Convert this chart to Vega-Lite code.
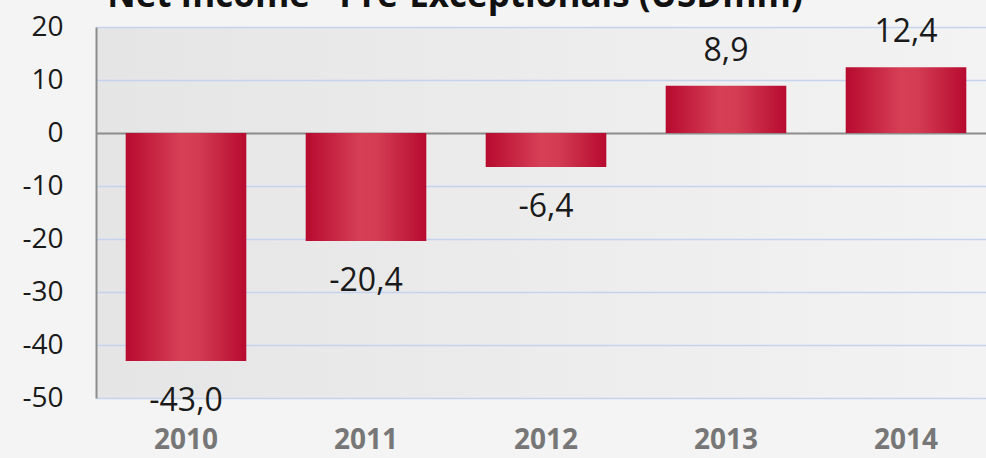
{
  "$schema": "https://vega.github.io/schema/vega-lite/v6.json",
  "width": 900,
  "height": 371,
  "autosize": {"type": "none"},
  "padding": {"left": 96, "top": 27, "right": 0, "bottom": 60},
  "background": "#f4f4f4",
  "title": {
    "text": "Net Income - Pre-Exceptionals (USDmm)",
    "font": "Open Sans",
    "fontSize": 35,
    "fontWeight": "bold",
    "color": "#111111",
    "anchor": "middle",
    "frame": "group",
    "baseline": "alphabetic",
    "offset": 0,
    "dx": -91,
    "dy": 29
  },
  "config": {
    "locale": {"number": {"decimal": ",", "thousands": ".", "grouping": [3], "currency": ["", ""], "minus": "-"}},
    "view": {
      "stroke": null,
      "fill": {"gradient": "linear", "x1": 0, "x2": 1, "y1": 0, "y2": 0, "stops": [{"offset": 0, "color": "#e5e5e5"}, {"offset": 1, "color": "#f3f3f3"}]}
    }
  },
  "data": {
    "values": [
      {"year": "2010", "v": -43.0},
      {"year": "2011", "v": -20.4},
      {"year": "2012", "v": -6.4},
      {"year": "2013", "v": 8.9},
      {"year": "2014", "v": 12.4}
    ]
  },
  "encoding": {
    "x": {
      "field": "year",
      "type": "nominal",
      "scale": {"paddingInner": 0.33, "paddingOuter": 0.165},
      "axis": {
        "title": null,
        "labelAngle": 0,
        "domain": false,
        "ticks": false,
        "labelFont": "Open Sans",
        "labelFontSize": 28,
        "labelFontWeight": "bold",
        "labelColor": "#777777",
        "labelPadding": 28,
        "labelBaseline": "top"
      }
    },
    "y": {
      "field": "v",
      "type": "quantitative",
      "scale": {"domain": [-50, 20], "nice": false},
      "axis": {
        "title": null,
        "values": [-50, -40, -30, -20, -10, 0, 10, 20],
        "format": "d",
        "domain": true,
        "domainColor": "#8c8c8c",
        "domainWidth": 2,
        "ticks": false,
        "labelPadding": 33,
        "labelFont": "Open Sans",
        "labelFontSize": 28,
        "labelColor": "#1a1a1a",
        "grid": true,
        "gridColor": {"condition": {"test": "datum.value === 0", "value": "#8c8c8c"}, "value": "#c5d3ec"},
        "gridWidth": {"condition": {"test": "datum.value === 0", "value": 2}, "value": 1.5},
        "gridOpacity": 1
      }
    }
  },
  "layer": [
    {
      "mark": {
        "type": "bar",
        "color": {"gradient": "linear", "x1": 0, "x2": 1, "y1": 0, "y2": 0, "stops": [
          {"offset": 0, "color": "#b70a2f"},
          {"offset": 0.45, "color": "#d63f56"},
          {"offset": 0.6, "color": "#d33c53"},
          {"offset": 1, "color": "#b70a2f"}
        ]}
      }
    },
    {
      "transform": [{"filter": "datum.v < 0"}],
      "mark": {"type": "text", "font": "Open Sans", "fontSize": 32, "color": "#1a1a1a", "baseline": "middle", "dy": 40},
      "encoding": {"text": {"field": "v", "type": "quantitative", "format": ".1f"}}
    },
    {
      "transform": [{"filter": "datum.v >= 0"}],
      "mark": {"type": "text", "font": "Open Sans", "fontSize": 32, "color": "#1a1a1a", "baseline": "middle", "dy": -35},
      "encoding": {"text": {"field": "v", "type": "quantitative", "format": ".1f"}}
    }
  ]
}
